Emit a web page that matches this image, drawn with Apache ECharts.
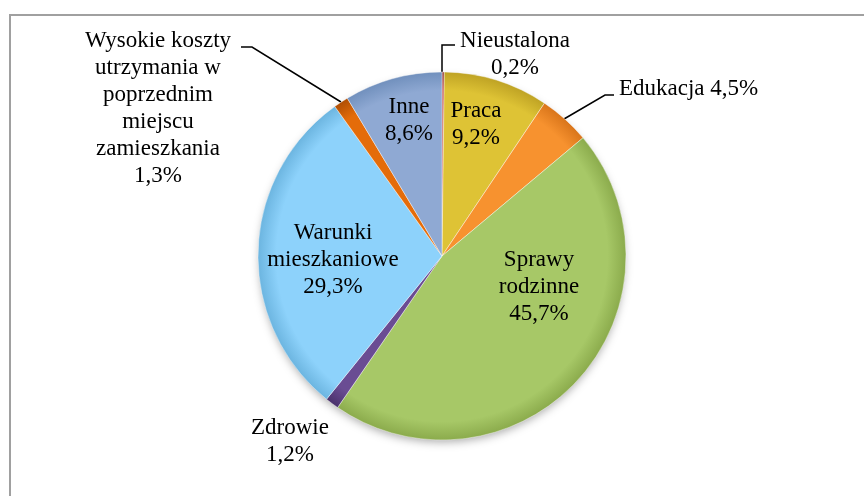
<!DOCTYPE html>
<html lang="pl">
<head>
  <meta charset="UTF-8">
  <title>Pie Chart</title>
  <script src="https://cdn.jsdelivr.net/npm/echarts@6.0.0/dist/echarts.min.js"></script>
  <style>
    html, body { margin: 0; padding: 0; background: #fff; }
    #chart { width: 864px; height: 496px; }
  </style>
</head>
<body>
  <div id="chart"></div>
  <script>
    // dane
    const categories = ['Nieustalona', 'Praca', 'Edukacja', 'Sprawy rodzinne', 'Zdrowie',
      'Warunki mieszkaniowe', 'Wysokie koszty utrzymania w poprzednim miejscu zamieszkania', 'Inne'];
    const shares = [0.2, 9.2, 4.5, 45.7, 1.2, 29.3, 1.3, 8.6];
    // podpisy z podziałem na linie
    const labelNames = ['Nieustalona', 'Praca', 'Edukacja', 'Sprawy\nrodzinne', 'Zdrowie',
      'Warunki\nmieszkaniowe', 'Wysokie koszty\nutrzymania w\npoprzednim\nmiejscu\nzamieszkania', 'Inne'];
    const nameSeparator = ['\n', '\n', ' ', '\n', '\n', '\n', '\n', '\n'];

    const colors = ['#C0504D', '#DEC335', '#F7922F', '#A7C867', '#6A4C93', '#8DD2FB', '#E46C0A', '#8FA9D3'];
    const rimColors = ['#8E3331', '#BFA324', '#D9751A', '#8BAB4C', '#4A326C', '#6CB5E0', '#B04F04', '#7190BD'];

    // pozycje podpisów (x, y, wyrównanie, linia odniesienia)
    const labelLayouts = [
      { x: 515, y: 54, align: 'center', line: [[442, 73], [442, 45], [455, 45]] },
      { x: 476, y: 124, align: 'center' },
      { x: 619, y: 89, align: 'left', line: [[564, 119], [605, 95], [614, 95]] },
      { x: 539, y: 287, align: 'center' },
      { x: 290, y: 441, align: 'center' },
      { x: 333, y: 260, align: 'center' },
      { x: 158, y: 108, align: 'center', line: [[341, 102], [252, 47], [241, 47]] },
      { x: 409, y: 120, align: 'center' }
    ];

    const cx = 442, cy = 256, R = 184;

    const chart = echarts.init(document.getElementById('chart'));

    const seriesData = categories.map((name, i) => ({
      name: name,
      value: shares[i],
      itemStyle: {
        color: {
          type: 'radial', x: cx, y: cy, r: R, global: true,
          colorStops: [
            { offset: 0, color: colors[i] },
            { offset: 0.9, color: colors[i] },
            { offset: 1, color: rimColors[i] }
          ]
        }
      },
      label: {
        formatter: labelNames[i] + nameSeparator[i] + shares[i].toFixed(1).replace('.', ',') + '%'
      },
      labelLine: { show: !!labelLayouts[i].line }
    }));

    const option = {
      animation: false,
      backgroundColor: '#fff',
      graphic: [{
        type: 'rect',
        shape: { x: 10, y: 15, width: 900, height: 600 },
        style: { fill: 'none', stroke: '#A0A0A0', lineWidth: 2 },
        silent: true
      }, {
        // miękki cień pod kołem
        type: 'circle',
        shape: { cx: cx, cy: cy, r: R - 2 },
        style: { fill: '#fff', shadowBlur: 10, shadowOffsetY: 4, shadowColor: 'rgba(0,0,0,0.35)' },
        silent: true
      }],
      series: [{
        type: 'pie',
        center: [cx, cy],
        radius: R,
        startAngle: 90,
        clockwise: true,
        avoidLabelOverlap: false,
        data: seriesData,
        itemStyle: {
          borderColor: 'rgba(255,255,255,0.4)',
          borderWidth: 1
        },
        label: {
          position: 'outside',
          color: '#000',
          fontFamily: 'Liberation Serif',
          fontSize: 23,
          lineHeight: 27
        },
        labelLine: {
          lineStyle: { color: '#000', width: 1.5 }
        },
        labelLayout: function (p) {
          const L = labelLayouts[p.dataIndex];
          const res = { x: L.x, y: L.y, align: L.align, verticalAlign: 'middle' };
          if (L.line) res.labelLinePoints = L.line;
          return res;
        }
      }]
    };

    chart.setOption(option);
  </script>
</body>
</html>
